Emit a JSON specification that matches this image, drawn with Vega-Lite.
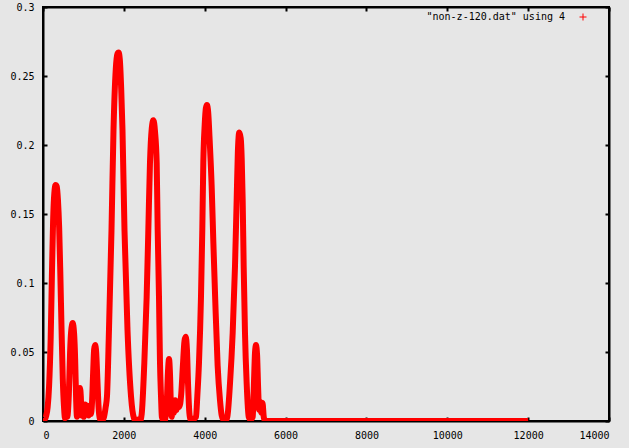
{
  "$schema": "https://vega.github.io/schema/vega-lite/v6.json",
  "width": 566,
  "height": 414,
  "autosize": {"type": "none"},
  "padding": {"left": 43, "top": 7, "right": 20, "bottom": 27},
  "background": "#e6e6e6",
  "config": {
    "view": {"stroke": "#000000", "strokeWidth": 2},
    "axis": {
      "grid": false,
      "domain": true,
      "domainColor": "#000000",
      "domainWidth": 2,
      "tickColor": "#000000",
      "tickWidth": 2,
      "tickSize": -4,
      "labelPadding": 13,
      "labelFont": "DejaVu Sans Mono",
      "labelFontSize": 10,
      "labelColor": "#000000",
      "title": null
    },
    "legend": {
      "orient": "none",
      "legendX": 535,
      "legendY": 5,
      "title": null,
      "symbolType": "M-1,0H1M0,-1V1",
      "symbolStrokeColor": "#ff0000",
      "symbolFillColor": "transparent",
      "symbolStrokeWidth": 1,
      "symbolSize": 49,
      "labelFont": "DejaVu Sans Mono",
      "labelFontSize": 10,
      "labelColor": "#000000",
      "labelAlign": "right",
      "labelOffset": -23,
      "labelLimit": 300
    }
  },
  "data": {
    "values": [
      {"x": 0, "y": 0.002}, {"x": 40, "y": 0.001}, {"x": 80, "y": 0.004}, {"x": 115, "y": 0.010},
      {"x": 150, "y": 0.025}, {"x": 190, "y": 0.060}, {"x": 220, "y": 0.105}, {"x": 250, "y": 0.145},
      {"x": 280, "y": 0.165}, {"x": 310, "y": 0.171}, {"x": 340, "y": 0.170}, {"x": 370, "y": 0.160},
      {"x": 400, "y": 0.140}, {"x": 430, "y": 0.105}, {"x": 460, "y": 0.065}, {"x": 490, "y": 0.030},
      {"x": 520, "y": 0.010}, {"x": 545, "y": 0.002}, {"x": 570, "y": 0.004}, {"x": 600, "y": 0.003},
      {"x": 640, "y": 0.020}, {"x": 670, "y": 0.050}, {"x": 700, "y": 0.066}, {"x": 735, "y": 0.071},
      {"x": 770, "y": 0.063}, {"x": 795, "y": 0.045}, {"x": 820, "y": 0.015}, {"x": 840, "y": 0.003},
      {"x": 870, "y": 0.006}, {"x": 895, "y": 0.020}, {"x": 915, "y": 0.024}, {"x": 935, "y": 0.018},
      {"x": 955, "y": 0.004}, {"x": 985, "y": 0.010}, {"x": 1010, "y": 0.003}, {"x": 1040, "y": 0.012},
      {"x": 1070, "y": 0.006}, {"x": 1100, "y": 0.011}, {"x": 1130, "y": 0.004}, {"x": 1160, "y": 0.009},
      {"x": 1185, "y": 0.005}, {"x": 1210, "y": 0.012}, {"x": 1240, "y": 0.035}, {"x": 1265, "y": 0.052},
      {"x": 1290, "y": 0.055}, {"x": 1315, "y": 0.050}, {"x": 1345, "y": 0.030}, {"x": 1375, "y": 0.010},
      {"x": 1405, "y": 0.002}, {"x": 1450, "y": 0.000}, {"x": 1509, "y": 0.003}, {"x": 1550, "y": 0.010},
      {"x": 1583, "y": 0.018}, {"x": 1632, "y": 0.066}, {"x": 1694, "y": 0.138}, {"x": 1744, "y": 0.211},
      {"x": 1800, "y": 0.255}, {"x": 1840, "y": 0.266}, {"x": 1870, "y": 0.267}, {"x": 1900, "y": 0.262},
      {"x": 1935, "y": 0.240}, {"x": 1966, "y": 0.211}, {"x": 2016, "y": 0.138}, {"x": 2090, "y": 0.066},
      {"x": 2177, "y": 0.018}, {"x": 2251, "y": 0.002}, {"x": 2300, "y": 0.000}, {"x": 2350, "y": 0.001},
      {"x": 2400, "y": 0.000}, {"x": 2441, "y": 0.005}, {"x": 2506, "y": 0.042}, {"x": 2564, "y": 0.090},
      {"x": 2605, "y": 0.138}, {"x": 2646, "y": 0.187}, {"x": 2690, "y": 0.212}, {"x": 2730, "y": 0.218},
      {"x": 2770, "y": 0.210}, {"x": 2812, "y": 0.187}, {"x": 2837, "y": 0.138}, {"x": 2869, "y": 0.090},
      {"x": 2894, "y": 0.042}, {"x": 2919, "y": 0.018}, {"x": 2940, "y": 0.003}, {"x": 2970, "y": 0.001},
      {"x": 3010, "y": 0.000}, {"x": 3030, "y": 0.003}, {"x": 3060, "y": 0.012}, {"x": 3090, "y": 0.035},
      {"x": 3117, "y": 0.045}, {"x": 3140, "y": 0.035}, {"x": 3165, "y": 0.010}, {"x": 3185, "y": 0.003},
      {"x": 3210, "y": 0.012}, {"x": 3240, "y": 0.006}, {"x": 3270, "y": 0.015}, {"x": 3300, "y": 0.008},
      {"x": 3330, "y": 0.014}, {"x": 3360, "y": 0.010}, {"x": 3390, "y": 0.012}, {"x": 3420, "y": 0.020},
      {"x": 3460, "y": 0.040}, {"x": 3500, "y": 0.058}, {"x": 3530, "y": 0.061}, {"x": 3560, "y": 0.052},
      {"x": 3590, "y": 0.025}, {"x": 3620, "y": 0.006}, {"x": 3650, "y": 0.001}, {"x": 3700, "y": 0.000},
      {"x": 3750, "y": 0.002}, {"x": 3784, "y": 0.003}, {"x": 3817, "y": 0.018}, {"x": 3858, "y": 0.042},
      {"x": 3908, "y": 0.090}, {"x": 3940, "y": 0.138}, {"x": 3965, "y": 0.187}, {"x": 4000, "y": 0.215},
      {"x": 4030, "y": 0.227}, {"x": 4055, "y": 0.229}, {"x": 4085, "y": 0.224}, {"x": 4120, "y": 0.205},
      {"x": 4172, "y": 0.170}, {"x": 4213, "y": 0.130}, {"x": 4260, "y": 0.088}, {"x": 4320, "y": 0.040},
      {"x": 4378, "y": 0.015}, {"x": 4420, "y": 0.004}, {"x": 4460, "y": 0.001}, {"x": 4510, "y": 0.000},
      {"x": 4559, "y": 0.003}, {"x": 4625, "y": 0.027}, {"x": 4692, "y": 0.064}, {"x": 4749, "y": 0.112},
      {"x": 4790, "y": 0.160}, {"x": 4820, "y": 0.195}, {"x": 4855, "y": 0.209}, {"x": 4890, "y": 0.205},
      {"x": 4915, "y": 0.190}, {"x": 4939, "y": 0.160}, {"x": 4964, "y": 0.112}, {"x": 4996, "y": 0.064},
      {"x": 5038, "y": 0.027}, {"x": 5088, "y": 0.003}, {"x": 5130, "y": 0.001}, {"x": 5170, "y": 0.002},
      {"x": 5187, "y": 0.003}, {"x": 5215, "y": 0.025}, {"x": 5245, "y": 0.050}, {"x": 5268, "y": 0.055},
      {"x": 5295, "y": 0.048}, {"x": 5320, "y": 0.025}, {"x": 5345, "y": 0.008}, {"x": 5370, "y": 0.014},
      {"x": 5400, "y": 0.006}, {"x": 5430, "y": 0.013}, {"x": 5460, "y": 0.003}, {"x": 5490, "y": 0.000},
      {"x": 12000, "y": 0.000}
    ]
  },
  "layer": [
    {
      "mark": {"type": "line", "strokeWidth": 6, "clip": true, "interpolate": "monotone", "strokeJoin": "miter", "strokeCap": "butt"},
      "encoding": {
        "x": {"field": "x", "type": "quantitative", "scale": {"domain": [0, 14000], "nice": false, "zero": false},
              "axis": {"orient": "bottom", "values": [0, 2000, 4000, 6000, 8000, 10000, 12000, 14000], "format": "d"}},
        "y": {"field": "y", "type": "quantitative", "scale": {"domain": [0, 0.3], "nice": false},
              "axis": {"orient": "left", "values": [0, 0.05, 0.1, 0.15, 0.2, 0.25, 0.3], "format": "~g"}},
        "color": {"datum": "\"non-z-120.dat\" using 4", "type": "nominal", "scale": {"range": ["#ff0000"]}}
      }
    },
    {
      "mark": {"type": "line", "opacity": 0, "clip": true},
      "encoding": {
        "x": {"field": "x", "type": "quantitative",
              "axis": {"orient": "top", "labels": false, "values": [0, 2000, 4000, 6000, 8000, 10000, 12000, 14000]}},
        "y": {"field": "y", "type": "quantitative",
              "axis": {"orient": "right", "labels": false, "values": [0, 0.05, 0.1, 0.15, 0.2, 0.25, 0.3]}}
      }
    }
  ],
  "resolve": {"axis": {"x": "independent", "y": "independent"}}
}
